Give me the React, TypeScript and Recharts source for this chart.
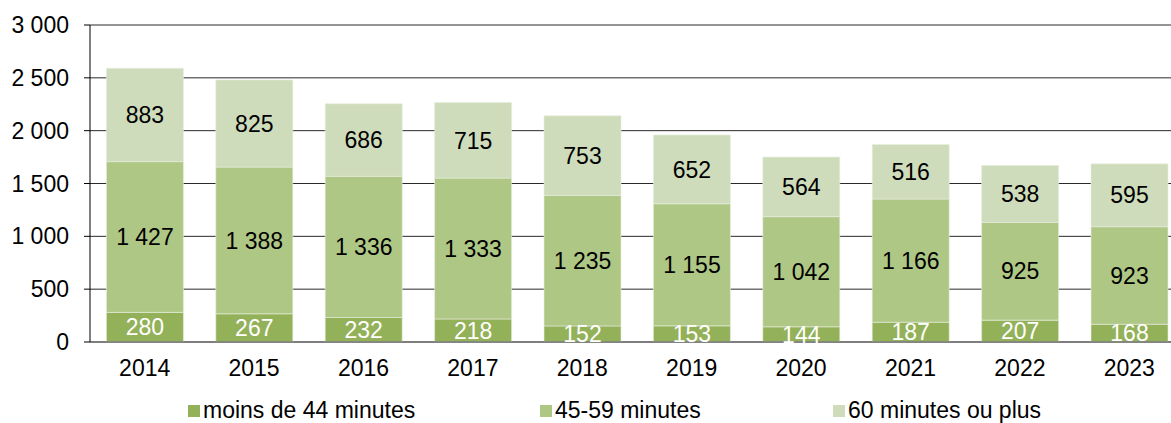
import { ComposedChart, Bar, XAxis, YAxis, CartesianGrid, LabelList, Legend } from 'recharts';

const years = ['2014', '2015', '2016', '2017', '2018', '2019', '2020', '2021', '2022', '2023'];
const moins44 = [280, 267, 232, 218, 152, 153, 144, 187, 207, 168];
const de45a59 = [1427, 1388, 1336, 1333, 1235, 1155, 1042, 1166, 925, 923];
const plus60 = [883, 825, 686, 715, 753, 652, 564, 516, 538, 595];
const yTicks = [0, 500, 1000, 1500, 2000, 2500, 3000];

const series = [
  { key: 'moins44', name: 'moins de 44 minutes', color: '#93b159', label: '#ffffff', legendX: 188 },
  { key: 'de45a59', name: '45-59 minutes', color: '#afc785', label: '#000000', legendX: 540 },
  { key: 'plus60', name: '60 minutes ou plus', color: '#cfdcbb', label: '#000000', legendX: 833 },
];

const data = years.map((year, i) => ({
  year,
  moins44: moins44[i],
  de45a59: de45a59[i],
  plus60: plus60[i],
}));

const fmt = (v: number) => String(v).replace(/\B(?=(\d{3})+(?!\d))/g, ' ');

const FONT = 'Arial, "Liberation Sans", sans-serif';

const LegendBox = () => (
  <div style={{ position: 'relative', width: 1171, height: 25, fontFamily: FONT, fontSize: 23 }}>
    {series.map((s) => (
      <div key={s.key} style={{ position: 'absolute', left: s.legendX, top: 0, height: 25, display: 'flex', alignItems: 'center' }}>
        <span style={{ width: 12, height: 12, background: s.color, marginRight: 3, display: 'inline-block' }} />
        <span style={{ color: '#000' }}>{s.name}</span>
      </div>
    ))}
  </div>
);

export default function App() {
  return (
    <div style={{ position: 'fixed', left: 0, top: 0, width: 1171, height: 423, overflow: 'hidden', background: '#fff' }}>
      <ComposedChart
        width={1200}
        height={423}
        data={data}
        margin={{ top: 25, right: 16, bottom: 0, left: 0 }}
        barCategoryGap="15%"
        style={{ fontFamily: FONT }}
      >
        <CartesianGrid vertical={false} stroke="#2a2a2a" strokeWidth={1} />
        <XAxis
          dataKey="year"
          height={56}
          tickLine={false}
          tickSize={0}
          tickMargin={18}
          axisLine={{ stroke: '#777', strokeWidth: 1.5 }}
          tick={{ fill: '#000', fontSize: 23 }}
        />
        <YAxis
          width={90}
          domain={[0, 3000]}
          ticks={yTicks}
          tickFormatter={fmt}
          tickSize={6}
          tickMargin={15}
          tickLine={{ stroke: '#000' }}
          axisLine={{ stroke: '#000' }}
          tick={{ fill: '#000', fontSize: 23 }}
        />
        <Legend verticalAlign="bottom" content={() => <LegendBox />} />
        {series.map((s) => (
          <Bar key={s.key} dataKey={s.key} name={s.name} stackId="a" fill={s.color} stroke="#e8eedd" strokeWidth={0.6} isAnimationActive={false}>
            <LabelList dataKey={s.key} position="center" formatter={(v: any) => fmt(Number(v))} fill={s.label} fontSize={23} />
          </Bar>
        ))}
      </ComposedChart>
    </div>
  );
}
